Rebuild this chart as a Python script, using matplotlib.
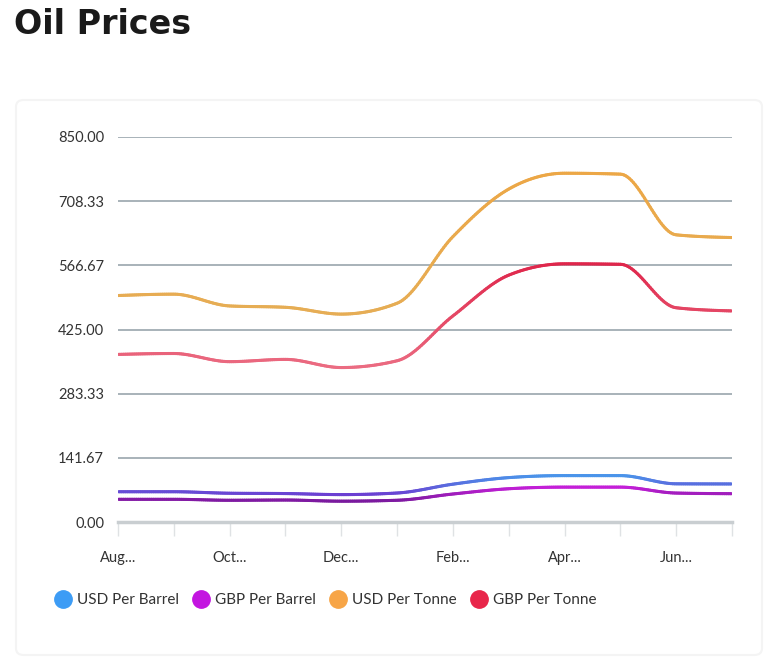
import numpy as np
import matplotlib
matplotlib.use("Agg")
import matplotlib.pyplot as plt
from matplotlib.collections import LineCollection
from matplotlib.lines import Line2D
from matplotlib.patches import FancyBboxPatch
from matplotlib.colors import to_rgb

months = ["Aug...", "Sep...", "Oct...", "Nov...", "Dec...", "Jan...",
          "Feb...", "Mar...", "Apr...", "May...", "Jun...", "Jul..."]
usd_barrel = [66.8, 66.8, 63.5, 62.8, 60.5, 64.0, 83.5, 98.0, 102.4, 102.4, 84.3, 84.0]
gbp_barrel = [50.1, 50.1, 48.0, 48.5, 46.0, 48.0, 61.8, 73.4, 77.0, 77.0, 63.9, 62.5]
usd_tonne = [500, 503, 477, 474, 459, 483, 630, 735, 770, 768, 634, 628]
gbp_tonne = [370, 372, 354, 359, 341, 356, 455, 545, 570, 569, 473, 466]
y_ticks = [0.00, 141.67, 283.33, 425.00, 566.67, 708.33, 850.00]

series = [
    ("USD Per Barrel", usd_barrel, "#3d9cf5", "#6b3fd2", "#4a94ea"),
    ("GBP Per Barrel", gbp_barrel, "#c315e0", "#7a1a9e", "#c41fd8"),
    ("USD Per Tonne", usd_tonne, "#f7a547", "#e6ad55", "#eca746"),
    ("GBP Per Tonne", gbp_tonne, "#e8264a", "#eb6c82", "#df264b"),
]


def monotone(x, y, n=30):
    # same idea as d3 curveMonotoneX
    x = np.asarray(x, float)
    y = np.asarray(y, float)
    h = np.diff(x)
    s = np.diff(y) / h
    t = np.zeros(len(x))
    for i in range(1, len(x) - 1):
        p = (s[i - 1] * h[i] + s[i] * h[i - 1]) / (h[i - 1] + h[i])
        t[i] = (np.sign(s[i - 1]) + np.sign(s[i])) * min(abs(s[i - 1]), abs(s[i]), 0.5 * abs(p))
    t[0] = (3 * s[0] - t[1]) / 2
    t[-1] = (3 * s[-1] - t[-2]) / 2
    xs, ys = [], []
    for i in range(len(x) - 1):
        u = np.linspace(0, 1, n, endpoint=False)
        h00 = 2 * u**3 - 3 * u**2 + 1
        h10 = u**3 - 2 * u**2 + u
        h01 = -2 * u**3 + 3 * u**2
        h11 = u**3 - u**2
        xs.append(x[i] + u * h[i])
        ys.append(h00 * y[i] + h10 * h[i] * t[i] + h01 * y[i + 1] + h11 * h[i] * t[i + 1])
    xs.append([x[-1]])
    ys.append([y[-1]])
    return np.concatenate(xs), np.concatenate(ys)


plt.rcParams["font.family"] = ["Lato", "DejaVu Sans"]
fig = plt.figure(figsize=(7.72, 6.62), dpi=100)

card = FancyBboxPatch((16 / 772, 1 - 655 / 662), 746 / 772, 555 / 662,
                      boxstyle="round,pad=0,rounding_size=0.01",
                      transform=fig.transFigure, facecolor="white",
                      edgecolor="#f4f4f4", linewidth=1.5, zorder=-5)
fig.patches.append(card)

fig.text(14 / 772, 1 - 25 / 662, "Oil Prices", fontsize=24, fontweight="bold",
         family="DejaVu Sans", color="#1a1a1a", va="center", ha="left")

ax = fig.add_axes([118 / 772, 1 - 522 / 662, 614 / 772, 385 / 662])
ax.set_zorder(2)
ax.set_facecolor("none")
x = np.arange(len(months))

for name, vals, leg_col, lo, hi in series:
    xs, ys = monotone(x, vals)
    pts = np.column_stack([xs, ys]).reshape(-1, 1, 2)
    segs = np.concatenate([pts[:-1], pts[1:]], axis=1)
    mid = (ys[:-1] + ys[1:]) / 2
    f = np.clip((mid - min(vals)) / (max(vals) - min(vals)), 0, 1)
    lo_c, hi_c = np.array(to_rgb(lo)), np.array(to_rgb(hi))
    cols = lo_c + f[:, None] * (hi_c - lo_c)
    lc = LineCollection(segs, colors=cols, linewidth=2.2,
                        capstyle="round", joinstyle="round", zorder=3)
    lc.set_snap(False)
    ax.add_collection(lc)

ax.set_xlim(0, len(months) - 1)
ax.set_ylim(0, 850)
ax.set_yticks(y_ticks)
ax.set_yticklabels([f"{v:.2f}" for v in y_ticks])
ax.set_xticks(x)
ax.set_xticklabels([m if i % 2 == 0 else "" for i, m in enumerate(months)])
ax.grid(axis="y", color="#9aa6ad", linewidth=1.2)
ax.set_axisbelow(True)
for sp in ["top", "right", "left"]:
    ax.spines[sp].set_visible(False)
ax.spines["bottom"].set_color("#c9ced1")
ax.spines["bottom"].set_linewidth(2.5)
ax.tick_params(axis="y", length=0, pad=10, labelsize=10.5, labelcolor="#333333")
ax.tick_params(axis="x", length=10, width=1, color="#dfe2e4", pad=11,
               labelsize=10.5, labelcolor="#333333")

handles = [Line2D([], [], marker="o", linestyle="none", markersize=12.5,
                  markerfacecolor=c, markeredgecolor=c) for _, _, c, _, _ in series]
fig.legend(handles, [s[0] for s in series], loc="center left",
           bbox_to_anchor=(38 / 772, 1 - 600 / 662), ncol=4, frameon=False,
           fontsize=11, handletextpad=0.15, columnspacing=0.72, handlelength=1.5,
           labelcolor="#333333")

fig.savefig("out.png", dpi=100)
